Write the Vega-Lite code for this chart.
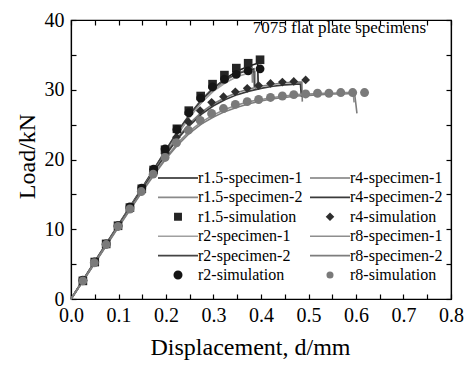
{
  "$schema": "https://vega.github.io/schema/vega-lite/v6.json",
  "width": 380,
  "height": 279,
  "autosize": {"type": "none"},
  "padding": {"left": 71, "top": 20, "right": 17, "bottom": 68},
  "background": "white",
  "config": {
    "view": {"stroke": "#000", "strokeWidth": 1.2},
    "font": "Liberation Serif",
    "axis": {"labelFont": "Liberation Serif", "titleFont": "Liberation Serif", "labelColor": "#000", "titleColor": "#000", "domainColor": "#000", "tickColor": "#000", "grid": false, "titleFontWeight": "normal"}
  },
  "datasets": {
    "specimens": [
      {"series":"r1.5-specimen-1","displacement":0,"load":0},{"series":"r1.5-specimen-1","displacement":0.05,"load":5.3},{"series":"r1.5-specimen-1","displacement":0.1,"load":10.6},{"series":"r1.5-specimen-1","displacement":0.15,"load":15.9},{"series":"r1.5-specimen-1","displacement":0.175,"load":18.6},{"series":"r1.5-specimen-1","displacement":0.2,"load":21.3},{"series":"r1.5-specimen-1","displacement":0.225,"load":24.0},{"series":"r1.5-specimen-1","displacement":0.25,"load":26.4},{"series":"r1.5-specimen-1","displacement":0.275,"load":28.5},{"series":"r1.5-specimen-1","displacement":0.3,"load":30.2},{"series":"r1.5-specimen-1","displacement":0.325,"load":31.6},{"series":"r1.5-specimen-1","displacement":0.35,"load":32.7},{"series":"r1.5-specimen-1","displacement":0.375,"load":33.4},{"series":"r1.5-specimen-1","displacement":0.393,"load":33.8},{"series":"r1.5-specimen-1","displacement":0.394,"load":30.8},
      {"series":"r1.5-specimen-2","displacement":0,"load":0},{"series":"r1.5-specimen-2","displacement":0.05,"load":5.2},{"series":"r1.5-specimen-2","displacement":0.1,"load":10.5},{"series":"r1.5-specimen-2","displacement":0.15,"load":15.8},{"series":"r1.5-specimen-2","displacement":0.175,"load":18.4},{"series":"r1.5-specimen-2","displacement":0.2,"load":21.1},{"series":"r1.5-specimen-2","displacement":0.225,"load":23.7},{"series":"r1.5-specimen-2","displacement":0.25,"load":26.1},{"series":"r1.5-specimen-2","displacement":0.275,"load":28.2},{"series":"r1.5-specimen-2","displacement":0.3,"load":29.9},{"series":"r1.5-specimen-2","displacement":0.325,"load":31.3},{"series":"r1.5-specimen-2","displacement":0.35,"load":32.3},{"series":"r1.5-specimen-2","displacement":0.37,"load":32.9},{"series":"r1.5-specimen-2","displacement":0.381,"load":33.1},{"series":"r1.5-specimen-2","displacement":0.382,"load":31.0},
      {"series":"r2-specimen-1","displacement":0,"load":0},{"series":"r2-specimen-1","displacement":0.05,"load":5.3},{"series":"r2-specimen-1","displacement":0.1,"load":10.6},{"series":"r2-specimen-1","displacement":0.15,"load":15.9},{"series":"r2-specimen-1","displacement":0.175,"load":18.5},{"series":"r2-specimen-1","displacement":0.2,"load":21.2},{"series":"r2-specimen-1","displacement":0.225,"load":23.8},{"series":"r2-specimen-1","displacement":0.25,"load":26.2},{"series":"r2-specimen-1","displacement":0.275,"load":28.2},{"series":"r2-specimen-1","displacement":0.3,"load":29.8},{"series":"r2-specimen-1","displacement":0.325,"load":31.0},{"series":"r2-specimen-1","displacement":0.35,"load":31.9},{"series":"r2-specimen-1","displacement":0.375,"load":32.4},{"series":"r2-specimen-1","displacement":0.388,"load":32.6},{"series":"r2-specimen-1","displacement":0.389,"load":30.0},
      {"series":"r2-specimen-2","displacement":0,"load":0},{"series":"r2-specimen-2","displacement":0.05,"load":5.4},{"series":"r2-specimen-2","displacement":0.1,"load":10.7},{"series":"r2-specimen-2","displacement":0.15,"load":16.0},{"series":"r2-specimen-2","displacement":0.175,"load":18.7},{"series":"r2-specimen-2","displacement":0.2,"load":21.4},{"series":"r2-specimen-2","displacement":0.225,"load":24.1},{"series":"r2-specimen-2","displacement":0.25,"load":26.5},{"series":"r2-specimen-2","displacement":0.275,"load":28.6},{"series":"r2-specimen-2","displacement":0.3,"load":30.3},{"series":"r2-specimen-2","displacement":0.325,"load":31.5},{"series":"r2-specimen-2","displacement":0.35,"load":32.3},{"series":"r2-specimen-2","displacement":0.375,"load":32.8},{"series":"r2-specimen-2","displacement":0.385,"load":33.0},{"series":"r2-specimen-2","displacement":0.386,"load":30.4},
      {"series":"r4-specimen-1","displacement":0,"load":0},{"series":"r4-specimen-1","displacement":0.05,"load":5.3},{"series":"r4-specimen-1","displacement":0.1,"load":10.6},{"series":"r4-specimen-1","displacement":0.15,"load":15.8},{"series":"r4-specimen-1","displacement":0.175,"load":18.4},{"series":"r4-specimen-1","displacement":0.2,"load":20.9},{"series":"r4-specimen-1","displacement":0.225,"load":23.2},{"series":"r4-specimen-1","displacement":0.25,"load":25.2},{"series":"r4-specimen-1","displacement":0.275,"load":26.8},{"series":"r4-specimen-1","displacement":0.3,"load":28.0},{"series":"r4-specimen-1","displacement":0.325,"load":28.9},{"series":"r4-specimen-1","displacement":0.35,"load":29.6},{"series":"r4-specimen-1","displacement":0.375,"load":30.1},{"series":"r4-specimen-1","displacement":0.4,"load":30.5},{"series":"r4-specimen-1","displacement":0.425,"load":30.8},{"series":"r4-specimen-1","displacement":0.45,"load":31.0},{"series":"r4-specimen-1","displacement":0.475,"load":31.1},{"series":"r4-specimen-1","displacement":0.486,"load":31.1},{"series":"r4-specimen-1","displacement":0.487,"load":28.3},
      {"series":"r4-specimen-2","displacement":0,"load":0},{"series":"r4-specimen-2","displacement":0.05,"load":5.2},{"series":"r4-specimen-2","displacement":0.1,"load":10.5},{"series":"r4-specimen-2","displacement":0.15,"load":15.7},{"series":"r4-specimen-2","displacement":0.175,"load":18.3},{"series":"r4-specimen-2","displacement":0.2,"load":20.7},{"series":"r4-specimen-2","displacement":0.225,"load":23.0},{"series":"r4-specimen-2","displacement":0.25,"load":24.9},{"series":"r4-specimen-2","displacement":0.275,"load":26.5},{"series":"r4-specimen-2","displacement":0.3,"load":27.7},{"series":"r4-specimen-2","displacement":0.325,"load":28.6},{"series":"r4-specimen-2","displacement":0.35,"load":29.3},{"series":"r4-specimen-2","displacement":0.375,"load":29.8},{"series":"r4-specimen-2","displacement":0.4,"load":30.2},{"series":"r4-specimen-2","displacement":0.425,"load":30.5},{"series":"r4-specimen-2","displacement":0.45,"load":30.7},{"series":"r4-specimen-2","displacement":0.475,"load":30.8},{"series":"r4-specimen-2","displacement":0.483,"load":30.8},{"series":"r4-specimen-2","displacement":0.485,"load":29.0},
      {"series":"r8-specimen-1","displacement":0,"load":0},{"series":"r8-specimen-1","displacement":0.05,"load":5.2},{"series":"r8-specimen-1","displacement":0.1,"load":10.4},{"series":"r8-specimen-1","displacement":0.15,"load":15.5},{"series":"r8-specimen-1","displacement":0.175,"load":18.0},{"series":"r8-specimen-1","displacement":0.2,"load":20.3},{"series":"r8-specimen-1","displacement":0.225,"load":22.4},{"series":"r8-specimen-1","displacement":0.25,"load":24.1},{"series":"r8-specimen-1","displacement":0.275,"load":25.4},{"series":"r8-specimen-1","displacement":0.3,"load":26.4},{"series":"r8-specimen-1","displacement":0.325,"load":27.2},{"series":"r8-specimen-1","displacement":0.35,"load":27.8},{"series":"r8-specimen-1","displacement":0.375,"load":28.3},{"series":"r8-specimen-1","displacement":0.4,"load":28.6},{"series":"r8-specimen-1","displacement":0.425,"load":28.9},{"series":"r8-specimen-1","displacement":0.45,"load":29.1},{"series":"r8-specimen-1","displacement":0.475,"load":29.3},{"series":"r8-specimen-1","displacement":0.5,"load":29.4},{"series":"r8-specimen-1","displacement":0.525,"load":29.5},{"series":"r8-specimen-1","displacement":0.55,"load":29.5},{"series":"r8-specimen-1","displacement":0.575,"load":29.6},{"series":"r8-specimen-1","displacement":0.594,"load":29.6},{"series":"r8-specimen-1","displacement":0.596,"load":28.2},
      {"series":"r8-specimen-2","displacement":0,"load":0},{"series":"r8-specimen-2","displacement":0.05,"load":5.1},{"series":"r8-specimen-2","displacement":0.1,"load":10.3},{"series":"r8-specimen-2","displacement":0.15,"load":15.4},{"series":"r8-specimen-2","displacement":0.175,"load":17.8},{"series":"r8-specimen-2","displacement":0.2,"load":20.1},{"series":"r8-specimen-2","displacement":0.225,"load":22.1},{"series":"r8-specimen-2","displacement":0.25,"load":23.8},{"series":"r8-specimen-2","displacement":0.275,"load":25.1},{"series":"r8-specimen-2","displacement":0.3,"load":26.1},{"series":"r8-specimen-2","displacement":0.325,"load":26.9},{"series":"r8-specimen-2","displacement":0.35,"load":27.5},{"series":"r8-specimen-2","displacement":0.375,"load":28.0},{"series":"r8-specimen-2","displacement":0.4,"load":28.4},{"series":"r8-specimen-2","displacement":0.425,"load":28.7},{"series":"r8-specimen-2","displacement":0.45,"load":28.9},{"series":"r8-specimen-2","displacement":0.475,"load":29.1},{"series":"r8-specimen-2","displacement":0.5,"load":29.2},{"series":"r8-specimen-2","displacement":0.525,"load":29.3},{"series":"r8-specimen-2","displacement":0.55,"load":29.4},{"series":"r8-specimen-2","displacement":0.575,"load":29.4},{"series":"r8-specimen-2","displacement":0.597,"load":29.5},{"series":"r8-specimen-2","displacement":0.6,"load":27.8},{"series":"r8-specimen-2","displacement":0.602,"load":26.6}
    ],
    "simulations": [
      {"series":"r1.5-simulation","displacement":0.025,"load":2.6},{"series":"r1.5-simulation","displacement":0.05,"load":5.3},{"series":"r1.5-simulation","displacement":0.074,"load":7.9},{"series":"r1.5-simulation","displacement":0.099,"load":10.5},{"series":"r1.5-simulation","displacement":0.124,"load":13.1},{"series":"r1.5-simulation","displacement":0.149,"load":15.8},{"series":"r1.5-simulation","displacement":0.174,"load":18.5},{"series":"r1.5-simulation","displacement":0.198,"load":21.4},{"series":"r1.5-simulation","displacement":0.223,"load":24.4},{"series":"r1.5-simulation","displacement":0.248,"load":27.0},{"series":"r1.5-simulation","displacement":0.273,"load":29.1},{"series":"r1.5-simulation","displacement":0.298,"load":30.8},{"series":"r1.5-simulation","displacement":0.323,"load":32.1},{"series":"r1.5-simulation","displacement":0.348,"load":33.1},{"series":"r1.5-simulation","displacement":0.373,"load":33.8},{"series":"r1.5-simulation","displacement":0.398,"load":34.3},
      {"series":"r4-simulation","displacement":0.025,"load":2.6},{"series":"r4-simulation","displacement":0.049,"load":5.2},{"series":"r4-simulation","displacement":0.074,"load":7.8},{"series":"r4-simulation","displacement":0.099,"load":10.4},{"series":"r4-simulation","displacement":0.124,"load":13.0},{"series":"r4-simulation","displacement":0.148,"load":15.6},{"series":"r4-simulation","displacement":0.173,"load":18.2},{"series":"r4-simulation","displacement":0.198,"load":20.8},{"series":"r4-simulation","displacement":0.222,"load":23.2},{"series":"r4-simulation","displacement":0.247,"load":25.4},{"series":"r4-simulation","displacement":0.272,"load":27.0},{"series":"r4-simulation","displacement":0.296,"load":28.2},{"series":"r4-simulation","displacement":0.321,"load":29.0},{"series":"r4-simulation","displacement":0.346,"load":29.7},{"series":"r4-simulation","displacement":0.371,"load":30.2},{"series":"r4-simulation","displacement":0.395,"load":30.6},{"series":"r4-simulation","displacement":0.42,"load":30.9},{"series":"r4-simulation","displacement":0.445,"load":31.1},{"series":"r4-simulation","displacement":0.469,"load":31.2},{"series":"r4-simulation","displacement":0.494,"load":31.4},
      {"series":"r2-simulation","displacement":0.025,"load":2.7},{"series":"r2-simulation","displacement":0.05,"load":5.3},{"series":"r2-simulation","displacement":0.074,"load":7.9},{"series":"r2-simulation","displacement":0.099,"load":10.5},{"series":"r2-simulation","displacement":0.124,"load":13.2},{"series":"r2-simulation","displacement":0.149,"load":15.9},{"series":"r2-simulation","displacement":0.174,"load":18.6},{"series":"r2-simulation","displacement":0.198,"load":21.5},{"series":"r2-simulation","displacement":0.223,"load":24.3},{"series":"r2-simulation","displacement":0.248,"load":26.7},{"series":"r2-simulation","displacement":0.273,"load":28.8},{"series":"r2-simulation","displacement":0.298,"load":30.4},{"series":"r2-simulation","displacement":0.323,"load":31.5},{"series":"r2-simulation","displacement":0.348,"load":32.2},{"series":"r2-simulation","displacement":0.373,"load":32.7},{"series":"r2-simulation","displacement":0.398,"load":33.0},
      {"series":"r8-simulation","displacement":0.025,"load":2.6},{"series":"r8-simulation","displacement":0.049,"load":5.2},{"series":"r8-simulation","displacement":0.074,"load":7.8},{"series":"r8-simulation","displacement":0.099,"load":10.4},{"series":"r8-simulation","displacement":0.124,"load":12.9},{"series":"r8-simulation","displacement":0.148,"load":15.4},{"series":"r8-simulation","displacement":0.173,"load":17.9},{"series":"r8-simulation","displacement":0.198,"load":20.3},{"series":"r8-simulation","displacement":0.222,"load":22.4},{"series":"r8-simulation","displacement":0.247,"load":24.2},{"series":"r8-simulation","displacement":0.272,"load":25.6},{"series":"r8-simulation","displacement":0.296,"load":26.6},{"series":"r8-simulation","displacement":0.321,"load":27.3},{"series":"r8-simulation","displacement":0.346,"load":27.9},{"series":"r8-simulation","displacement":0.371,"load":28.3},{"series":"r8-simulation","displacement":0.395,"load":28.6},{"series":"r8-simulation","displacement":0.42,"load":28.9},{"series":"r8-simulation","displacement":0.445,"load":29.1},{"series":"r8-simulation","displacement":0.469,"load":29.3},{"series":"r8-simulation","displacement":0.494,"load":29.4},{"series":"r8-simulation","displacement":0.519,"load":29.5},{"series":"r8-simulation","displacement":0.543,"load":29.5},{"series":"r8-simulation","displacement":0.568,"load":29.6},{"series":"r8-simulation","displacement":0.593,"load":29.6},{"series":"r8-simulation","displacement":0.618,"load":29.6}
    ],
    "notes": [{"label": "7075 flat plate specimens", "displacement": 0.565, "load": 38.9}]
  },
  "resolve": {"axis": {"x": "independent", "y": "independent"}},
  "layer": [
    {
      "data": {"name": "specimens"},
      "mark": {"type": "line", "strokeWidth": 1.6},
      "encoding": {
        "x": {"field": "displacement", "type": "quantitative", "scale": {"domain": [0, 0.8], "nice": false, "zero": false},
          "axis": {"orient": "bottom", "title": "Displacement, d/mm", "titleFontSize": 24, "labelFontSize": 20, "values": [0,0.05,0.1,0.15,0.2,0.25,0.3,0.35,0.4,0.45,0.5,0.55,0.6,0.65,0.7,0.75,0.8], "labelExpr": "abs(datum.value*10 - round(datum.value*10)) < 0.01 ? format(datum.value, '.1f') : ''", "tickSize": -5, "labelPadding": 11, "titlePadding": 10, "titleX": 179, "labelFlush": false, "labelOverlap": false, "domainWidth": 1.2, "tickWidth": 1.2}},
        "y": {"field": "load", "type": "quantitative", "scale": {"domain": [0, 40], "nice": false},
          "axis": {"orient": "left", "title": "Load/kN", "titleFontSize": 24, "labelFontSize": 20, "values": [0,5,10,15,20,25,30,35,40], "labelExpr": "datum.value % 10 == 0 ? datum.label : ''", "tickSize": -5, "labelPadding": 12, "titlePadding": 5, "titleY": 136, "labelFlush": false, "labelOverlap": false, "domainWidth": 1.2, "tickWidth": 1.2}},
        "color": {"field": "series", "type": "nominal",
          "scale": {"domain": ["r1.5-specimen-1","r1.5-specimen-2","r1.5-simulation","r2-specimen-1","r2-specimen-2","r2-simulation","r4-specimen-1","r4-specimen-2","r4-simulation","r8-specimen-1","r8-specimen-2","r8-simulation"],
                    "range": ["#1e1e1e","#8a8a8a","#252525","#a0a0a0","#444444","#151515","#7a7a7a","#3a3a3a","#2e2e2e","#8e8e8e","#7d7d7d","#7a7a7a"]},
          "legend": {"orient": "none", "legendX": 84, "legendY": 150, "columns": 2, "title": null, "labelFont": "Liberation Serif", "labelFontSize": 16, "labelColor": "#000", "symbolSize": 100, "symbolType": "stroke", "symbolStrokeWidth": 1.6, "rowPadding": 3.4, "columnPadding": 3, "labelOffset": 27, "padding": 0,
            "encode": {"symbols": {"update": {
              "x": {"value": 23},
              "shape": {"signal": "datum.value && indexof(datum.value, 'simulation') >= 0 ? (indexof(datum.value, 'r1.5') >= 0 ? 'square' : (indexof(datum.value, 'r4') >= 0 ? 'diamond' : 'circle')) : 'M-4,0H4'"},
              "size": {"signal": "datum.value && indexof(datum.value, 'simulation') >= 0 ? (indexof(datum.value, 'r8') >= 0 ? 30 : (indexof(datum.value, 'r2') >= 0 ? 55 : 40)) : 100"},
              "fill": {"scale": "color", "field": "value"},
              "stroke": {"scale": "color", "field": "value"},
              "strokeWidth": {"value": 1.6},
              "opacity": {"value": 1}
            }}}}
        },
        "detail": {"field": "series"}
      }
    },
    {
      "data": {"name": "simulations"},
      "mark": {"type": "point", "filled": true, "opacity": 1},
      "encoding": {
        "x": {"field": "displacement", "type": "quantitative", "axis": {"orient": "top", "title": null, "labels": false, "values": [0,0.05,0.1,0.15,0.2,0.25,0.3,0.35,0.4,0.45,0.5,0.55,0.6,0.65,0.7,0.75,0.8], "tickSize": -5, "domainWidth": 1.2, "tickWidth": 1.2}},
        "y": {"field": "load", "type": "quantitative", "axis": {"orient": "right", "title": null, "labels": false, "values": [0,5,10,15,20,25,30,35,40], "tickSize": -5, "domainWidth": 1.2, "tickWidth": 1.2}},
        "color": {"field": "series", "type": "nominal"},
        "shape": {"field": "series", "type": "nominal", "scale": {"domain": ["r1.5-simulation","r4-simulation","r2-simulation","r8-simulation"], "range": ["square","diamond","circle","circle"]}, "legend": null},
        "size": {"field": "series", "type": "nominal", "scale": {"domain": ["r1.5-simulation","r4-simulation","r2-simulation","r8-simulation"], "range": [75, 80, 80, 50]}, "legend": null}
      }
    },
    {
      "data": {"name": "notes"},
      "mark": {"type": "text", "font": "Liberation Serif", "fontSize": 17, "color": "#000"},
      "encoding": {
        "x": {"field": "displacement", "type": "quantitative", "axis": null},
        "y": {"field": "load", "type": "quantitative", "axis": null},
        "text": {"field": "label"}
      }
    }
  ]
}
